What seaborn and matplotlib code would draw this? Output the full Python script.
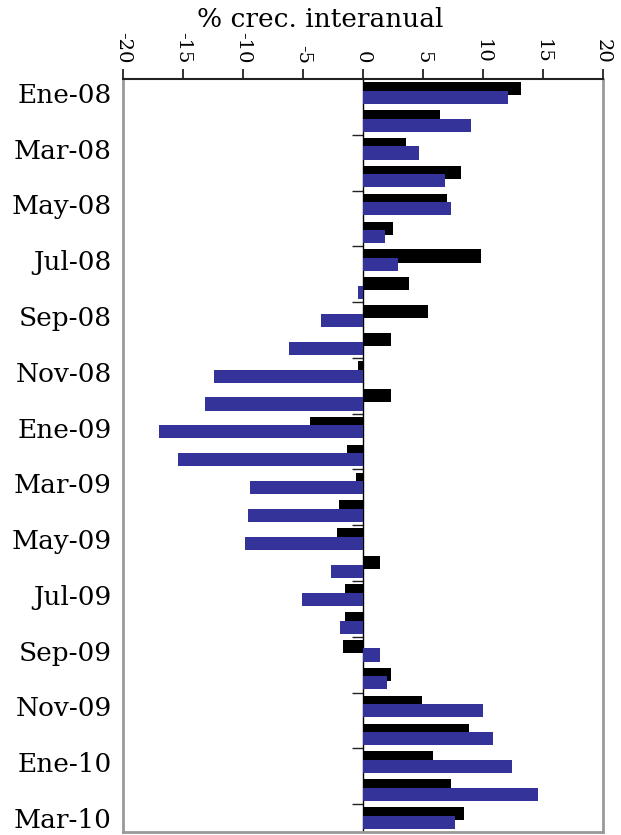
import pandas as pd
import seaborn as sns
import matplotlib
matplotlib.use("Agg")
import matplotlib.pyplot as plt

# Monthly labels and the two series (% crec. interanual)
meses = ["Ene-08", "Feb-08", "Mar-08", "Abr-08", "May-08", "Jun-08", "Jul-08",
         "Ago-08", "Sep-08", "Oct-08", "Nov-08", "Dic-08", "Ene-09", "Feb-09",
         "Mar-09", "Abr-09", "May-09", "Jun-09", "Jul-09", "Ago-09", "Sep-09",
         "Oct-09", "Nov-09", "Dic-09", "Ene-10", "Feb-10", "Mar-10"]
serie_negra = [13.2, 6.4, 3.6, 8.2, 7.0, 2.5, 9.8, 3.8, 5.4, 2.3,
               -0.4, 2.3, -4.4, -1.3, -0.6, -2.0, -2.2, 1.4, -1.5, -1.5,
               -1.7, 2.3, 4.9, 8.8, 5.8, 7.3, 8.4]
serie_azul = [12.1, 9.0, 4.7, 6.8, 7.3, 1.8, 2.9, -0.4, -3.5, -6.2,
              -12.4, -13.2, -17.0, -15.4, -9.4, -9.6, -9.8, -2.7, -5.1, -1.9,
              1.4, 2.0, 10.0, 10.8, 12.4, 14.6, 7.7]
x_ticks = [-20, -15, -10, -5, 0, 5, 10, 15, 20]

df = pd.DataFrame({
    "mes": meses * 2,
    "serie": ["negra"] * len(meses) + ["azul"] * len(meses),
    "valor": serie_negra + serie_azul,
})

sns.set_style("white")
plt.rcParams["font.family"] = ["DejaVu Serif", "DejaVu Sans"]
plt.rcParams["text.color"] = "black"
plt.rcParams["xtick.color"] = "black"
plt.rcParams["ytick.color"] = "black"
plt.rcParams["axes.labelcolor"] = "black"

fig = plt.figure(figsize=(6.21, 8.35), dpi=100)
ax = fig.add_axes([0.198, 0.0036, 0.773, 0.9018])

sns.barplot(data=df, x="valor", y="mes", hue="serie", orient="h",
            palette=["black", "#333399"], saturation=1, width=0.62,
            gap=-0.516, linewidth=0, legend=False, ax=ax)

ax.set_xlim(-20, 20)
ax.set_ylim(len(meses) - 0.5, -0.5)

# x axis on top, rotated labels
ax.xaxis.set_ticks_position("top")
ax.xaxis.set_label_position("top")
ax.set_xticks(x_ticks)
ax.set_xticklabels([str(v) for v in x_ticks], rotation=-90, fontsize=14)
ax.tick_params(axis="x", direction="out", length=7, width=1.3,
               color="#222222", pad=4)
ax.set_xlabel("% crec. interanual", fontsize=19)
ax.xaxis.set_label_coords(0.41, 1.069)

# category labels every two months at the left edge
ax.set_yticks(range(0, len(meses), 2))
ax.set_yticklabels(meses[::2], fontsize=19)
ax.tick_params(axis="y", length=0, pad=8)
ax.set_ylabel("")

for side in ["left", "right", "bottom"]:
    ax.spines[side].set_color("#999999")
    ax.spines[side].set_linewidth(2)
ax.spines["top"].set_color("#222222")
ax.spines["top"].set_linewidth(1.5)

# vertical axis through zero with small ticks between month pairs
eje0 = ax.secondary_yaxis(0.5)
eje0.set_alignment("left")
eje0.set_yticks([k + 0.5 for k in range(1, len(meses) - 1, 2)])
eje0.tick_params(length=8, width=1, direction="out", labelleft=False,
                 labelright=False, color="#222222")
eje0.spines["left"].set_color("black")
eje0.spines["left"].set_linewidth(1)

fig.savefig("out.png", dpi=100)
